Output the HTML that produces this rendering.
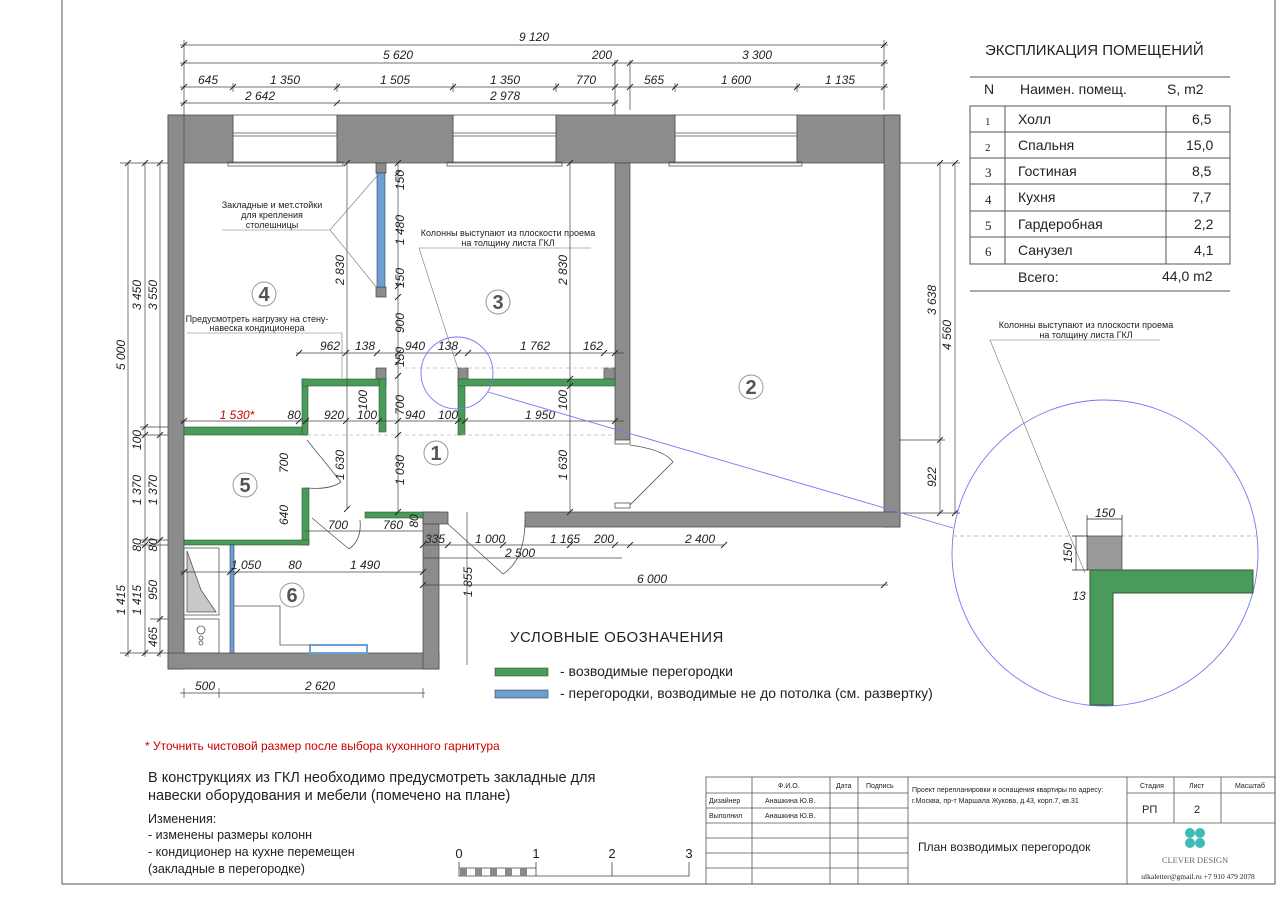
<!DOCTYPE html>
<html><head><meta charset="utf-8"><style>
html,body{margin:0;padding:0;background:#fff}
svg{display:block}
text{font-family:"Liberation Sans","DejaVu Sans",sans-serif;fill:#222}
.d{font-size:12px;font-style:italic}
.s{font-size:9px}
.t{font-size:14px}
</style></head><body>
<svg width="1279" height="900" viewBox="0 0 1279 900" xmlns="http://www.w3.org/2000/svg">
<path d="M62 0V884H1275V0" fill="none" stroke="#555" stroke-width="1"/>

<g fill="#8c8c8c" stroke="#444" stroke-width="0.7">
<rect x="168" y="115" width="65" height="48"/>
<rect x="337" y="115" width="116" height="48"/>
<rect x="556" y="115" width="119" height="48"/>
<rect x="797" y="115" width="103" height="48"/>
<rect x="168" y="115" width="16" height="554"/>
<rect x="884" y="115" width="16" height="412"/>
<rect x="615" y="163" width="15" height="277"/>
<rect x="525" y="512" width="375" height="15"/>
<rect x="168" y="653" width="271" height="16"/>
<rect x="423" y="512" width="16" height="157"/>
<rect x="423" y="512" width="25" height="12"/>
<rect x="376" y="163" width="10" height="10"/>
<rect x="376" y="287" width="10" height="10"/>
<rect x="376" y="368" width="10" height="11"/>
<rect x="458" y="368" width="10" height="11"/>
<rect x="604" y="368" width="11" height="11"/>
</g>
<g fill="none" stroke="#555" stroke-width="0.8">
<rect x="233" y="115" width="104" height="48"/><line x1="233" y1="133" x2="337" y2="133"/><line x1="233" y1="136" x2="337" y2="136"/><rect x="228" y="162" width="115" height="4"/>
<rect x="453" y="115" width="103" height="48"/><line x1="453" y1="133" x2="556" y2="133"/><line x1="453" y1="136" x2="556" y2="136"/><rect x="447" y="162" width="115" height="4"/>
<rect x="675" y="115" width="122" height="48"/><line x1="675" y1="133" x2="797" y2="133"/><line x1="675" y1="136" x2="797" y2="136"/><rect x="669" y="162" width="133" height="4"/>
</g>
<g fill="#4a9a5a" stroke="#2c5c35" stroke-width="0.6">
<rect x="184" y="427" width="123" height="8"/>
<rect x="302" y="379" width="6" height="56"/>
<rect x="302" y="379" width="84" height="7"/>
<rect x="379" y="379" width="7" height="53"/>
<rect x="458" y="379" width="7" height="56"/>
<rect x="458" y="379" width="157" height="7"/>
<rect x="302" y="488" width="7" height="57"/>
<rect x="184" y="540" width="125" height="5"/>
<rect x="365" y="512" width="58" height="6"/>
</g>
<g fill="#6d9fd3" stroke="#345" stroke-width="0.6">
<rect x="377" y="173" width="8" height="114"/>
<rect x="230" y="545" width="4" height="108"/>
<rect x="310" y="645" width="57" height="8" fill="#fff" stroke="#6d9fd3" stroke-width="2"/>
</g>
<g stroke="#bbb" stroke-dasharray="4 3" stroke-width="0.8">
<line x1="398" y1="368" x2="614" y2="368"/><line x1="307" y1="435" x2="615" y2="435"/>
</g>
<g fill="none" stroke="#555" stroke-width="0.8">
<path d="M630 505L673 462M630 445Q665 450 673 462"/>
<rect x="615" y="440" width="15" height="4" fill="#fff"/><rect x="615" y="503" width="15" height="5" fill="#fff"/>
<path d="M307 440L341 482M306 488Q330 490 341 482"/>
<path d="M312 518L349 549M360 520Q362 540 349 549"/>
<path d="M448 524L503 574M525 520Q525 560 503 574"/>
<rect x="184" y="548" width="35" height="67" fill="#fff"/>
<path d="M187 551L201 590L216 612L187 612Z" fill="#c8c8c8"/>
<rect x="184" y="619" width="35" height="34"/>
<circle cx="201" cy="630" r="4"/><circle cx="201" cy="638" r="2"/><circle cx="201" cy="643" r="2"/>
<path d="M234 606H280V645H310"/>
</g>
<g font-size="20" font-weight="bold" text-anchor="middle">
<circle cx="264" cy="294" r="12" fill="none" stroke="#999"/><text x="264" y="301" style="fill:#555">4</text>
<circle cx="498" cy="302" r="12" fill="none" stroke="#999"/><text x="498" y="309" style="fill:#555">3</text>
<circle cx="436" cy="453" r="12" fill="none" stroke="#999"/><text x="436" y="460" style="fill:#555">1</text>
<circle cx="245" cy="485" r="12" fill="none" stroke="#999"/><text x="245" y="492" style="fill:#555">5</text>
<circle cx="292" cy="595" r="12" fill="none" stroke="#999"/><text x="292" y="602" style="fill:#555">6</text>
<circle cx="751" cy="387" r="12" fill="none" stroke="#999"/><text x="751" y="394" style="fill:#555">2</text>
</g>
<g stroke="#444" stroke-width="0.7" fill="none">
<line x1="180" y1="45" x2="888" y2="45"/><line x1="180" y1="63" x2="888" y2="63"/><line x1="180" y1="87" x2="888" y2="87"/><line x1="180" y1="103" x2="618" y2="103"/>
<path d="M184 40V115M615 60V115M630 60V110M884 40V110M233 83V92M337 83V92M453 83V92M556 83V92M675 83V92M797 83V92"/>
<line x1="128" y1="163" x2="128" y2="657"/><line x1="145" y1="163" x2="145" y2="657"/><line x1="160" y1="163" x2="160" y2="657"/>
<path d="M120 163H168M120 653H168M140 427H168M140 435H168M140 540H168M140 545H168M150 619H168"/>
<line x1="347" y1="163" x2="347" y2="509"/><line x1="398" y1="163" x2="398" y2="512"/><line x1="570" y1="163" x2="570" y2="512"/>
<line x1="940" y1="163" x2="940" y2="513"/><line x1="955" y1="163" x2="955" y2="513"/><path d="M900 163H960M900 440H945M900 513H960"/>
<line x1="296" y1="353" x2="624" y2="353"/><line x1="180" y1="421" x2="624" y2="421"/>
<line x1="305" y1="531" x2="423" y2="531"/><line x1="423" y1="545" x2="724" y2="545"/><line x1="423" y1="558" x2="622" y2="558"/>
<line x1="180" y1="572" x2="424" y2="572"/><line x1="423" y1="585" x2="888" y2="585"/><line x1="180" y1="693" x2="425" y2="693"/>
<line x1="467" y1="512" x2="467" y2="665"/>
<path d="M184 688V698M219 688V698M423 688V698"/>
</g>
<g stroke="#222" stroke-width="0.9">
<path d="M181 48l6-6M881 48l6-6M181 66l6-6M612 66l6-6M627 66l6-6M881 66l6-6M181 90l6-6M230 90l6-6M334 90l6-6M450 90l6-6M553 90l6-6M612 90l6-6M627 90l6-6M672 90l6-6M794 90l6-6M881 90l6-6M181 106l6-6M334 106l6-6M612 106l6-6"/>
<path d="M125 166l6-6M142 166l6-6M157 166l6-6M125 656l6-6M142 656l6-6M157 656l6-6M142 430l6-6M142 438l6-6M157 438l6-6M142 543l6-6M142 548l6-6M157 543l6-6M157 622l6-6"/>
<path d="M296 356l6-6M343 356l6-6M374 356l6-6M395 356l6-6M455 356l6-6M465 356l6-6M601 356l6-6M612 356l6-6M181 424l6-6M296 424l6-6M303 424l6-6M343 424l6-6M376 424l6-6M395 424l6-6M455 424l6-6M462 424l6-6M612 424l6-6"/>
<path d="M420 548l6-6M445 548l6-6M500 548l6-6M567 548l6-6M612 548l6-6M627 548l6-6M721 548l6-6M420 588l6-6M881 588l6-6M181 575l6-6M227 575l6-6M234 575l6-6M420 575l6-6"/>
<path d="M395 166l6-6M395 176l6-6M395 289l6-6M395 300l6-6M395 365l6-6M395 379l6-6M395 438l6-6M395 515l6-6M937 166l6-6M937 443l6-6M937 516l6-6M952 166l6-6M952 516l6-6M344 166l6-6M344 512l6-6M567 166l6-6M567 382l6-6M567 389l6-6M567 515l6-6"/>
</g>
<g class="d" text-anchor="middle">
<text x="534" y="41">9 120</text>
<text x="398" y="59">5 620</text><text x="602" y="59">200</text><text x="757" y="59">3 300</text>
<text x="208" y="84">645</text><text x="285" y="84">1 350</text><text x="395" y="84">1 505</text><text x="505" y="84">1 350</text><text x="586" y="84">770</text><text x="654" y="84">565</text><text x="736" y="84">1 600</text><text x="840" y="84">1 135</text>
<text x="260" y="100">2 642</text><text x="505" y="100">2 978</text>
<text x="330" y="350">962</text><text x="365" y="350">138</text><text x="415" y="350">940</text><text x="448" y="350">138</text><text x="535" y="350">1 762</text><text x="593" y="350">162</text>
<text x="237" y="419" style="fill:#c00">1 530*</text><text x="294" y="419">80</text><text x="334" y="419">920</text><text x="367" y="419">100</text><text x="415" y="419">940</text><text x="448" y="419">100</text><text x="540" y="419">1 950</text>
<text x="338" y="529">700</text><text x="393" y="529">760</text>
<text x="435" y="543">335</text><text x="490" y="543">1 000</text><text x="565" y="543">1 165</text><text x="604" y="543">200</text><text x="700" y="543">2 400</text>
<text x="520" y="557">2 500</text>
<text x="246" y="569">1 050</text><text x="295" y="569">80</text><text x="365" y="569">1 490</text>
<text x="652" y="583">6 000</text>
<text x="205" y="690">500</text><text x="320" y="690">2 620</text>
</g>
<g class="d" text-anchor="middle">
<text transform="translate(125,355) rotate(-90)">5 000</text>
<text transform="translate(141,295) rotate(-90)">3 450</text>
<text transform="translate(157,295) rotate(-90)">3 550</text>
<text transform="translate(141,440) rotate(-90)">100</text>
<text transform="translate(141,490) rotate(-90)">1 370</text>
<text transform="translate(157,490) rotate(-90)">1 370</text>
<text transform="translate(141,545) rotate(-90)">80</text>
<text transform="translate(157,545) rotate(-90)">80</text>
<text transform="translate(125,600) rotate(-90)">1 415</text>
<text transform="translate(141,600) rotate(-90)">1 415</text>
<text transform="translate(157,590) rotate(-90)">950</text>
<text transform="translate(157,637) rotate(-90)">465</text>
<text transform="translate(344,270) rotate(-90)">2 830</text>
<text transform="translate(344,465) rotate(-90)">1 630</text>
<text transform="translate(404,180) rotate(-90)">150</text>
<text transform="translate(404,230) rotate(-90)">1 480</text>
<text transform="translate(404,278) rotate(-90)">150</text>
<text transform="translate(404,323) rotate(-90)">900</text>
<text transform="translate(404,357) rotate(-90)">150</text>
<text transform="translate(404,405) rotate(-90)">700</text>
<text transform="translate(404,470) rotate(-90)">1 030</text>
<text transform="translate(367,400) rotate(-90)">100</text>
<text transform="translate(567,270) rotate(-90)">2 830</text>
<text transform="translate(567,400) rotate(-90)">100</text>
<text transform="translate(567,465) rotate(-90)">1 630</text>
<text transform="translate(288,463) rotate(-90)">700</text>
<text transform="translate(288,515) rotate(-90)">640</text>
<text transform="translate(418,521) rotate(-90)">80</text>
<text transform="translate(472,582) rotate(-90)">1 855</text>
<text transform="translate(936,300) rotate(-90)">3 638</text>
<text transform="translate(951,335) rotate(-90)">4 560</text>
<text transform="translate(936,477) rotate(-90)">922</text>
</g>
<g class="s" text-anchor="middle">
<text x="272" y="208">Закладные и мет.стойки</text><text x="272" y="218">для крепления</text><text x="272" y="228">столешницы</text>
<text x="508" y="236">Колонны выступают из плоскости проема</text><text x="508" y="246">на толщину листа ГКЛ</text>
<text x="257" y="322">Предусмотреть нагрузку на стену-</text><text x="257" y="331">навеска кондиционера</text>
<text x="1086" y="328">Колонны выступают из плоскости проема</text><text x="1086" y="338">на толщину листа ГКЛ</text>
</g>
<g stroke="#777" stroke-width="0.6" fill="none">
<path d="M222 230H330L377 176M330 230L377 288"/>
<path d="M419 248H591M419 248L459 372"/>
<path d="M187 333H342V378"/>
<path d="M990 340H1160M990 340L1085 573"/>
</g>
<g fill="none" stroke="#7878f0" stroke-width="0.9">
<circle cx="457" cy="373" r="36"/>
<circle cx="1105" cy="553" r="153"/>
<line x1="488" y1="392" x2="953" y2="528"/>
</g>
<line x1="953" y1="536" x2="1258" y2="536" stroke="#bbb" stroke-dasharray="4 3"/>
<rect x="1087" y="536" width="35" height="34" fill="#999" stroke="#444" stroke-width="0.7"/>
<path d="M1090 570H1253V593H1113V705H1090Z" fill="#4a9a5a" stroke="#2c5c35"/>
<g stroke="#222" stroke-width="0.7" fill="none"><path d="M1087 519H1122M1087 515V536M1122 515V536M1076 536V570M1072 536H1088M1072 570H1088"/></g>
<g class="d" text-anchor="middle"><text x="1105" y="517">150</text><text transform="translate(1072,553) rotate(-90)">150</text><text x="1079" y="600">13</text></g>

<text x="510" y="642" style="font-size:15px;letter-spacing:0.5px">УСЛОВНЫЕ  ОБОЗНАЧЕНИЯ</text>
<rect x="495" y="668" width="53" height="8" fill="#4a9a5a" stroke="#2c5c35" stroke-width="0.6"/>
<text x="560" y="676" class="t">- возводимые перегородки</text>
<rect x="495" y="690" width="53" height="8" fill="#6d9fd3" stroke="#345" stroke-width="0.6"/>
<text x="560" y="698" class="t">- перегородки, возводимые не до потолка (см. развертку)</text>

<text x="985" y="55" style="font-size:15px">ЭКСПЛИКАЦИЯ ПОМЕЩЕНИЙ</text>
<g stroke="#555" stroke-width="1" fill="none">
<line x1="970" y1="77" x2="1230" y2="77"/><rect x="970" y="106" width="260" height="158"/>
<path d="M1005 106V264M1166 106V264M970 132H1230M970 158H1230M970 184H1230M970 211H1230M970 237H1230"/>
<line x1="970" y1="291" x2="1230" y2="291"/>
</g>
<g class="t">
<text x="984" y="94">N</text><text x="1020" y="94">Наимен. помещ.</text><text x="1167" y="94">S, m2</text>
<text x="985" y="125" style="font-family:'Liberation Serif',serif;font-size:11px">1</text><text x="1018" y="124">Холл</text><text x="1192" y="124">6,5</text>
<text x="985" y="151" style="font-family:'Liberation Serif',serif;font-size:11px">2</text><text x="1018" y="150">Спальня</text><text x="1186" y="150">15,0</text>
<text x="985" y="177" style="font-family:'Liberation Serif',serif;font-size:13px">3</text><text x="1018" y="176">Гостиная</text><text x="1192" y="176">8,5</text>
<text x="985" y="204" style="font-family:'Liberation Serif',serif;font-size:13px">4</text><text x="1018" y="202">Кухня</text><text x="1192" y="202">7,7</text>
<text x="985" y="230" style="font-family:'Liberation Serif',serif;font-size:13px">5</text><text x="1018" y="229">Гардеробная</text><text x="1194" y="229">2,2</text>
<text x="985" y="256" style="font-family:'Liberation Serif',serif;font-size:13px">6</text><text x="1018" y="255">Санузел</text><text x="1194" y="255">4,1</text>
<text x="1018" y="282">Всего:</text><text x="1162" y="281">44,0 m2</text>
</g>

<text x="145" y="750" style="font-size:12px;fill:#c00">* Уточнить чистовой размер после выбора кухонного гарнитура</text>
<text x="148" y="782" style="font-size:14.5px">В конструкциях из ГКЛ необходимо предусмотреть закладные для</text>
<text x="148" y="800" style="font-size:14.5px">навески оборудования и мебели (помечено на плане)</text>
<text x="148" y="823" style="font-size:12.5px">Изменения:</text>
<text x="148" y="839" style="font-size:12.5px">- изменены размеры колонн</text>
<text x="148" y="856" style="font-size:12.5px">- кондиционер на кухне перемещен</text>
<text x="148" y="873" style="font-size:12.5px">(закладные в перегородке)</text>
<g font-size="13" text-anchor="middle"><text x="459" y="858">0</text><text x="536" y="858">1</text><text x="612" y="858">2</text><text x="689" y="858">3</text></g>
<g stroke="#444" stroke-width="0.8" fill="none"><path d="M459 862V876H689V862M536 862V876M612 862V876M459 868H536"/></g>
<g fill="#888"><rect x="460" y="868" width="7" height="8"/><rect x="475" y="868" width="7" height="8"/><rect x="490" y="868" width="7" height="8"/><rect x="505" y="868" width="7" height="8"/><rect x="520" y="868" width="7" height="8"/></g>

<g stroke="#555" stroke-width="0.8" fill="none">
<rect x="706" y="777" width="569" height="107"/>
<path d="M706 793H908M706 808H908M706 823H908M706 838H908M706 853H908M706 868H908"/>
<path d="M752 777V884M830 777V884M858 777V884M908 777V884M1127 777V884"/>
<path d="M908 823H1275M1127 793H1275M1174 777V823M1221 777V823"/>
</g>
<g style="font-size:7px">
<text x="778" y="788">Ф.И.О.</text><text x="836" y="788">Дата</text><text x="866" y="788">Подпись</text>
<text x="709" y="803">Дизайнер</text><text x="765" y="803">Анашкина Ю.В.</text>
<text x="709" y="818">Выполнил</text><text x="765" y="818">Анашкина Ю.В.</text>
<text x="912" y="792">Проект перепланировки и оснащения квартиры по адресу:</text>
<text x="912" y="803">г.Москва, пр-т Маршала Жукова, д.43, корп.7, кв.31</text>
<text x="1140" y="788">Стадия</text><text x="1189" y="788">Лист</text><text x="1235" y="788">Масштаб</text>
</g>
<text x="1142" y="813" style="font-size:11px">РП</text><text x="1194" y="813" style="font-size:11px">2</text>
<text x="918" y="851" style="font-size:12px">План возводимых перегородок</text>
<g fill="#3cbcb4"><circle cx="1190" cy="833" r="5"/><circle cx="1200" cy="833" r="5"/><circle cx="1190" cy="843" r="5"/><circle cx="1200" cy="843" r="5"/></g>
<text x="1195" y="863" text-anchor="middle" style="font-family:'Liberation Serif',serif;font-size:8.5px;fill:#666">CLEVER DESIGN</text>
<text x="1198" y="879" text-anchor="middle" style="font-family:'Liberation Serif',serif;font-size:7.5px">ulkaletter@gmail.ru   +7 910 479 2078</text>
</svg>
</body></html>
